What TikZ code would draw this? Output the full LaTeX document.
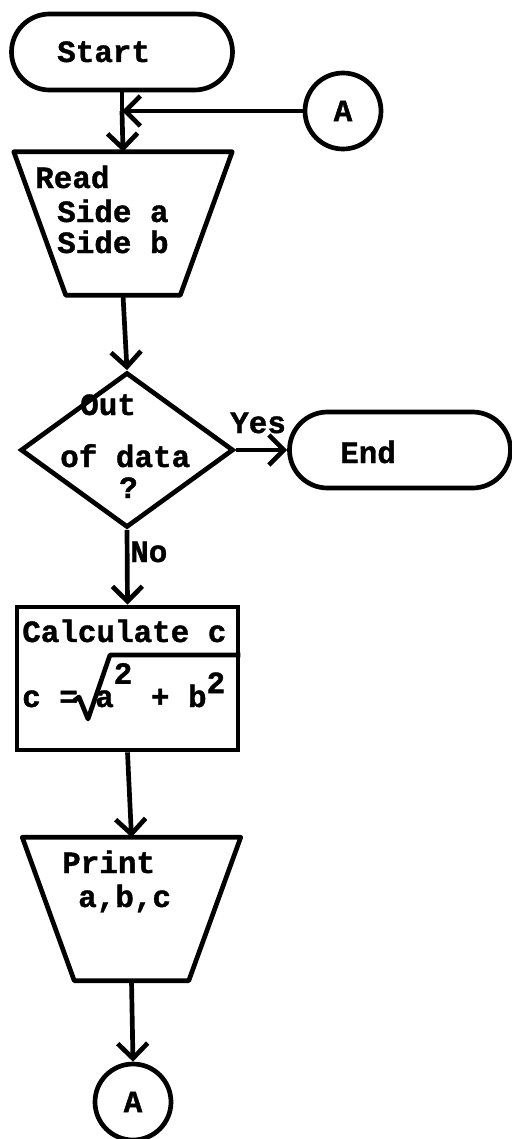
\documentclass[tikz,border=0pt]{standalone}
\usepackage{fontspec}
\newfontfamily\twfont{Liberation Mono}[UprightFont={* Bold},FakeBold=1.2]
\usetikzlibrary{arrows.meta,shapes.geometric,shapes.misc}
\begin{document}
\begin{tikzpicture}[x=0.3mm,y=-0.3mm,
  every node/.style={font=\twfont\fontsize{26.4}{28}\selectfont},
  ln/.style={line width=4pt},
  term/.style={draw,ln,rounded rectangle,minimum width=66.3mm,minimum height=22.8mm,inner sep=0pt},
  conn/.style={draw,ln,circle,minimum size=22.8mm,inner sep=0pt},
  iobox/.style={rectangle,minimum width=65.4mm,minimum height=42.9mm,inner sep=0pt},
  decide/.style={draw,ln,diamond,aspect=1.37,minimum width=63.9mm,minimum height=46.5mm,inner sep=0pt},
  proc/.style={draw,ln,rectangle,minimum width=66.3mm,minimum height=42.9mm,inner sep=0pt},
  txt/.style={inner sep=0pt,anchor=base west},
  arr/.style={ln,-{Straight Barb[length=4.5mm,width=9mm]}}
]
\useasboundingbox (0,0) rectangle (511,1139);

% shapes
\node[term] (start) at (122,52) {};
\node[conn] (atop) at (343,111) {};
\node[iobox] (read) at (123,223.5) {};
\draw[ln,line join=round] (read.north west) -- (read.north east) -- ([xshift=-15.6mm]read.south east) -- ([xshift=15.6mm]read.south west) -- cycle;
\node[decide] (dec) at (127,450) {};
\node[term] (end) at (400,450) {};
\node[proc] (calc) at (127.5,678.5) {};
\node[iobox] (print) at (131.5,909) {};
\draw[ln,line join=round] (print.north west) -- (print.north east) -- ([xshift=-15.6mm]print.south east) -- ([xshift=15.6mm]print.south west) -- cycle;
\node[conn] (abot) at (133,1102) {};

% texts
\node[txt] (tstart) at (57,62) {Start};
\node (ta1) at (343,111) {A};
\node[txt] (tread1) at (35,188) {Read};
\node[txt] (tread2) at (57,222) {Side a};
\node[txt] (tread3) at (57,253) {Side b};
\node[txt] (tout) at (80,415) {Out};
\node[txt] (tof) at (60,467) {of data};
\node[txt] (tq) at (119,498) {?};
\node[txt] (tyes) at (230,433) {Yes};
\node[txt] (tend) at (340,463) {End};
\node[txt] (tno) at (130,562) {No};
\node[txt] (tcalc) at (22,642) {Calculate c};
\node[txt] (tform1) at (22,707) {c =};
\node[txt] (tform2) at (95,707) {a\raisebox{0.75em}{2} + b\raisebox{0.45em}{2}};
\node[txt] (tprint1) at (62,873) {Print};
\node[txt] (tprint2) at (78,907) {a,b,c};
\node (ta2) at (133,1102) {A};

% radical sign of the formula
\coordinate (radtop) at (110,655);
\draw[ln,line join=round] (74,701) -- (79,697) -- (88,719) -- (radtop) -- (radtop -| calc.east);

% connectors
\coordinate (j) at (start.south |- atop.west);
\draw[ln] (start.south) -- (j);
\draw[arr] (j) -- (read.north);
\draw[arr] (atop.west) -- (j);
\draw[arr] (read.south) -- (dec.north);
\draw[arr] (dec.east) -- (end.west);
\draw[arr] (dec.south) -- (calc.north);
\draw[arr] (calc.south) -- (print.north);
\draw[arr] (print.south) -- (abot.north);
\end{tikzpicture}
\end{document}
